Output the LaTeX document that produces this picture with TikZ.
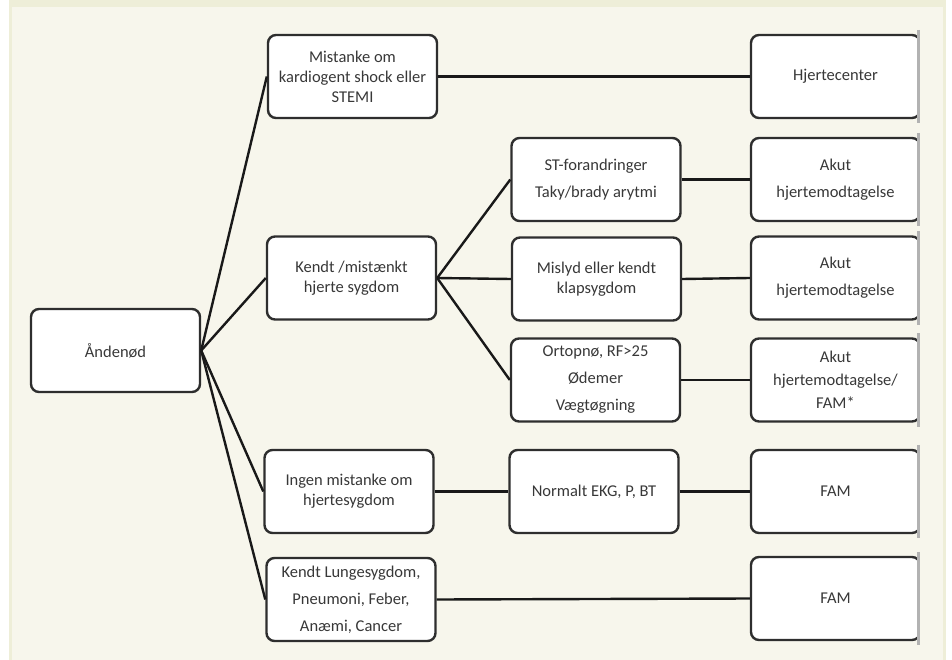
\documentclass[tikz,border=0pt]{standalone}
\usepackage{fontspec}
\setmainfont{Carlito}
\begin{document}
\begin{tikzpicture}[x=1pt,y=-1pt,
  box/.style={draw=black!82, line width=2.4pt, rounded corners=8pt, fill=white,
    minimum width=169pt, minimum height=83pt, align=center, inner sep=0pt,
    text=black!78, font=\fontsize{16.5}{20}\selectfont},
  conn/.style={draw=black!90, line width=2.4pt},
  edgegrey/.style={draw=black!30, line width=3pt}]
\useasboundingbox (0,0) rectangle (952,660);
\fill[white] (0,0) rectangle (952,660);
\fill[fill={rgb,255:red,238;green,238;blue,216}] (9,0) rectangle (946,660);
\fill[fill={rgb,255:red,247;green,246;blue,236}] (12,7) rectangle (943,660);

\node[box] (and) at (115.5,350.5) {Åndenød};
\node[box] (mist) at (352.5,76.5) {Mistanke om\\kardiogent shock eller\\STEMI};
\node[box] (kendt) at (351.5,278) {Kendt /mistænkt\\hjerte sygdom};
\node[box] (ingen) at (349,491.5) {Ingen mistanke om\\hjertesygdom};
\node[box] (lunge) at (351,599.5) {Kendt Lungesygdom,\\[7pt]Pneumoni, Feber,\\[7pt]Anæmi, Cancer};
\node[box] (st) at (596,179.5) {ST-forandringer\\[7pt]Taky/brady arytmi};
\node[box] (mislyd) at (596.5,279) {Mislyd eller kendt\\klapsygdom};
\node[box] (ortop) at (595.5,380) {Ortopnø, RF>25\\[7pt]Ødemer\\[7pt]Vægtøgning};
\node[box] (normalt) at (594,491.5) {Normalt EKG, P, BT};

\coordinate (clipx) at (918.5,0);
\begin{scope}
\clip (0,0) rectangle (918,660);
\node[box] (hj) at (835.5,76.5) {Hjertecenter};
\node[box] (ak1) at (835.5,179.5) {Akut\\[7pt]hjertemodtagelse};
\node[box] (ak2) at (835.5,278) {Akut\\[7pt]hjertemodtagelse};
\node[box] (ak3) at (835.5,380) {Akut\\[3pt]hjertemodtagelse/\\[3pt]FAM*};
\node[box] (fam1) at (835.5,491.5) {FAM};
\node[box] (fam2) at (835.5,598.5) {FAM};
\end{scope}
\foreach \n in {hj,ak1,ak2,ak3,fam1,fam2}{
  \draw[edgegrey] ([yshift=4pt]\n.north -| clipx) -- ([yshift=-4pt]\n.south -| clipx);
}

\draw[conn] (and.east) -- (mist.west);
\draw[conn] (and.east) -- (kendt.west);
\draw[conn] (and.east) -- (ingen.west);
\draw[conn] (and.east) -- (lunge.west);
\draw[conn] (kendt.east) -- (st.west);
\draw[conn] (kendt.east) -- (mislyd.west);
\draw[conn] (kendt.east) -- (ortop.west);
\draw[conn] (mist.east) -- (hj.west);
\draw[conn] (st.east) -- (ak1.west);
\draw[conn] (mislyd.east) -- (ak2.west);
\draw[conn] (ortop.east) -- (ak3.west);
\draw[conn] (ingen.east) -- (normalt.west);
\draw[conn] (normalt.east) -- (fam1.west);
\draw[conn] (lunge.east) -- (fam2.west);
\end{tikzpicture}
\end{document}
